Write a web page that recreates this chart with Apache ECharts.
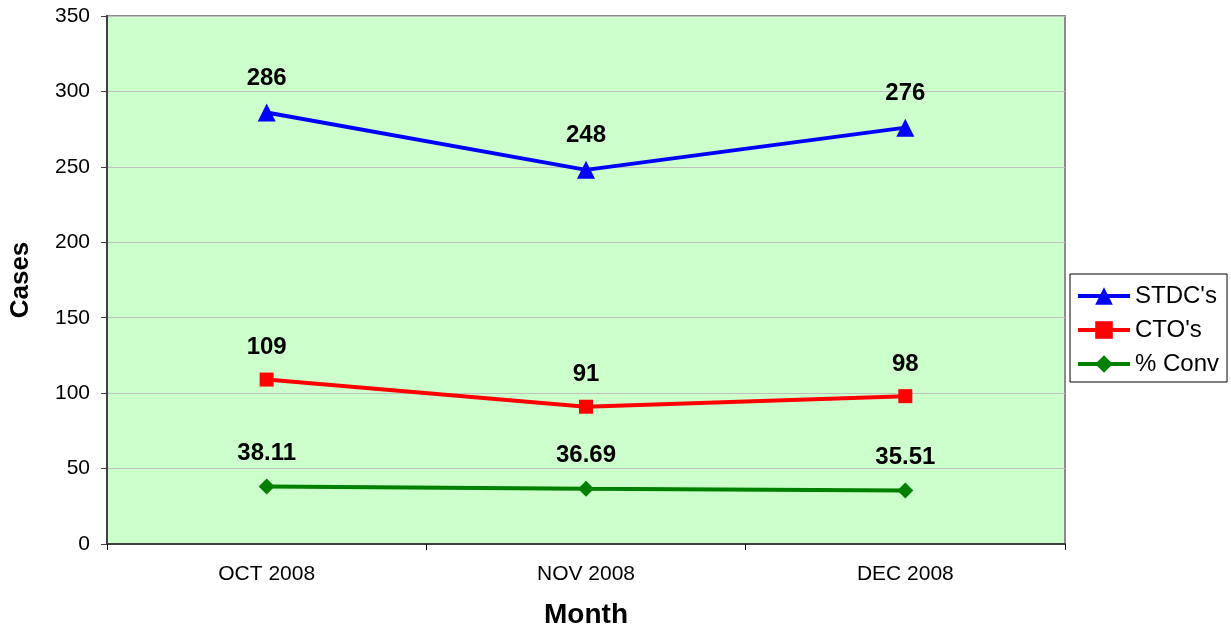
<!DOCTYPE html>
<html>
<head>
<meta charset="utf-8">
<script src="https://cdn.jsdelivr.net/npm/echarts@6/dist/echarts.min.js"></script>
<style>
  html, body { margin: 0; padding: 0; background: #fff; }
  #main { width: 1231px; height: 632px; }
</style>
</head>
<body>
<div id="main"></div>
<script>
var months = ['OCT 2008', 'NOV 2008', 'DEC 2008'];
var stdc = [286, 248, 276];
var cto = [109, 91, 98];
var conv = [38.11, 36.69, 35.51];

var font = '"Liberation Sans", Arial, sans-serif';

var labelStyle = {
  show: true,
  position: 'top',
  distance: 13,
  color: '#000',
  fontSize: 24,
  fontWeight: 'bold',
  fontFamily: font
};

var option = {
  backgroundColor: '#fff',
  animation: false,
  grid: {
    left: 107,
    right: 166,
    top: 16,
    bottom: 88,
    outerBoundsMode: 'none',
    containLabel: false,
    show: true,
    backgroundColor: '#ccffcc',
    borderColor: '#8c8c8c',
    borderWidth: 2
  },
  legend: {
    orient: 'vertical',
    left: 1070,
    top: 274,
    padding: [10, 8, 6, 6],
    itemGap: 10,
    itemWidth: 52,
    itemHeight: 22,
    borderColor: '#000',
    borderWidth: 1,
    lineStyle: { width: 4 },
    textStyle: { fontSize: 24, color: '#000', fontFamily: font },
    data: ["STDC's", "CTO's", '% Conv']
  },
  xAxis: {
    type: 'category',
    data: months,
    boundaryGap: true,
    name: 'Month',
    nameLocation: 'middle',
    nameGap: 57,
    nameTextStyle: { fontSize: 28, fontWeight: 'bold', color: '#000', fontFamily: font },
    axisLine: { lineStyle: { color: '#404040', width: 2 } },
    axisTick: { show: true, length: 6, lineStyle: { color: '#000' } },
    axisLabel: { fontSize: 21, color: '#000', margin: 20, fontFamily: font },
    splitLine: { show: false }
  },
  yAxis: {
    type: 'value',
    min: 0,
    max: 350,
    interval: 50,
    name: 'Cases',
    nameLocation: 'middle',
    nameGap: 73,
    nameTextStyle: { fontSize: 26, fontWeight: 'bold', color: '#000', fontFamily: font },
    axisLine: { show: true, lineStyle: { color: '#404040', width: 2 } },
    axisTick: { show: true, length: 6, lineStyle: { color: '#404040' } },
    axisLabel: { fontSize: 21, color: '#000', margin: 17, fontFamily: font },
    splitLine: { show: true, lineStyle: { color: '#c0c0c0', width: 1 } }
  },
  series: [
    {
      name: "STDC's",
      type: 'line',
      data: stdc,
      symbol: 'triangle',
      symbolSize: 18,
      color: '#0000ff',
      lineStyle: { width: 4, color: '#0000ff' },
      label: labelStyle
    },
    {
      name: "CTO's",
      type: 'line',
      data: cto,
      symbol: 'rect',
      symbolSize: 14,
      color: '#ff0000',
      lineStyle: { width: 4, color: '#ff0000' },
      label: labelStyle
    },
    {
      name: '% Conv',
      type: 'line',
      data: conv,
      symbol: 'diamond',
      symbolSize: 16,
      color: '#008000',
      lineStyle: { width: 4, color: '#008000' },
      label: labelStyle
    }
  ]
};

var chart = echarts.init(document.getElementById('main'));
chart.setOption(option);
</script>
</body>
</html>
